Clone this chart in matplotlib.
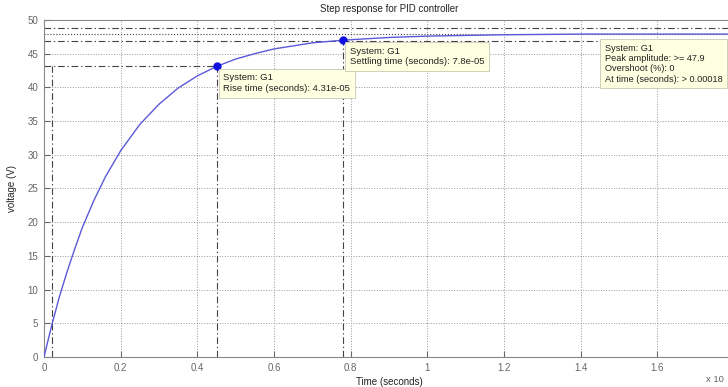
import matplotlib.pyplot as plt

plt.rcParams["font.family"] = ["Liberation Sans", "DejaVu Sans"]

# step response of G1, time in units of 1e-4 s
t = [0, 0.02, 0.04, 0.06, 0.08, 0.10, 0.13, 0.16, 0.20, 0.25, 0.30, 0.35, 0.40,
     0.45, 0.50, 0.55, 0.60, 0.70, 0.78, 0.90, 1.00, 1.10, 1.20, 1.40, 1.60, 1.80]
v = [0, 4.65, 8.9, 12.6, 16.0, 19.2, 23.2, 26.7, 30.6, 34.5, 37.5, 39.9, 41.7,
     43.1, 44.2, 45.0, 45.7, 46.6, 47.0, 47.4, 47.6, 47.7, 47.8, 47.9, 47.9, 47.9]

final_value = 47.9
t_10, t_rise, v_rise = 0.02, 0.45, 43.1
t_settle, v_settle = 0.78, 47.0
band = [48.86, 46.94]

x_ticks = [0, 0.2, 0.4, 0.6, 0.8, 1, 1.2, 1.4, 1.6]
x_labels = ["0", "0.2", "0.4", "0.6", "0.8", "1", "1.2", "1.4", "1.6"]
y_ticks = [0, 5, 10, 15, 20, 25, 30, 35, 40, 45, 50]

fig = plt.figure(figsize=(7.28, 3.87), dpi=100)
ax = fig.add_axes([0.0604, 0.0775, 0.948, 0.871])

gray = "#666666"
dark = "#444444"
dd = (6, 2.5, 1.2, 2.5)
tipbox = dict(boxstyle="square,pad=0.5", fc="#ffffe1", ec="#c8c8b4", lw=0.6)

# characteristic lines
for y in band:
    ax.axhline(y, color=dark, ls="-.", lw=0.8, dashes=dd)
ax.axhline(final_value, color=dark, ls=":", lw=0.8)
ax.plot([t_10, t_10], [0, v_rise], color=dark, ls="-.", lw=0.8, dashes=dd)
ax.plot([t_rise, t_rise], [0, v_rise], color=dark, ls="-.", lw=0.8, dashes=dd)
ax.plot([0, t_rise], [v_rise, v_rise], color=dark, ls="-.", lw=0.8, dashes=dd)
ax.plot([t_settle, t_settle], [0, v_settle], color=dark, ls="-.", lw=0.8, dashes=dd)

ax.plot(t, v, color="#5a5ad8", lw=1.0, zorder=5)
ax.plot([t_rise, t_settle], [v_rise, v_settle], "o", color="#1010e0", ms=5, zorder=6)

ax.annotate("System: G1\nRise time (seconds): 4.31e-05", (t_rise, v_rise),
            xytext=(5, -5), textcoords="offset points", ha="left", va="top",
            fontsize=6.8, color="#222222", bbox=tipbox, zorder=7)
ax.annotate("System: G1\nSettling time (seconds): 7.8e-05", (t_settle, v_settle),
            xytext=(5, -5), textcoords="offset points", ha="left", va="top",
            fontsize=6.8, color="#222222", bbox=tipbox, zorder=7)
ax.text(1.462, 46.5, "System: G1\nPeak amplitude: >= 47.9\nOvershoot (%): 0\nAt time (seconds): > 0.00018",
        ha="left", va="top", fontsize=6.6, color="#222222", bbox=tipbox, zorder=7)

ax.set_xlim(0, 1.8)
ax.set_ylim(0, 50)
ax.set_xticks(x_ticks)
ax.set_xticklabels(x_labels)
ax.set_yticks(y_ticks)
ax.tick_params(direction="in", length=4, width=0.8, colors=gray, labelsize=7, pad=4)
ax.grid(True, ls=":", color="#999999", lw=0.7)
for s in ax.spines.values():
    s.set_color("#888888")
    s.set_linewidth(0.8)

ax.set_title("Step response for PID controller", fontsize=7, color="#222222", pad=6)
ax.set_xlabel("Time (seconds)", fontsize=7, color="#222222", labelpad=3)
ax.set_ylabel("voltage (V)", fontsize=7, color="#222222", labelpad=8)
fig.text(0.97, 0.012, "x 10", fontsize=6.8, color=gray)

fig.savefig("out.png", dpi=100)
